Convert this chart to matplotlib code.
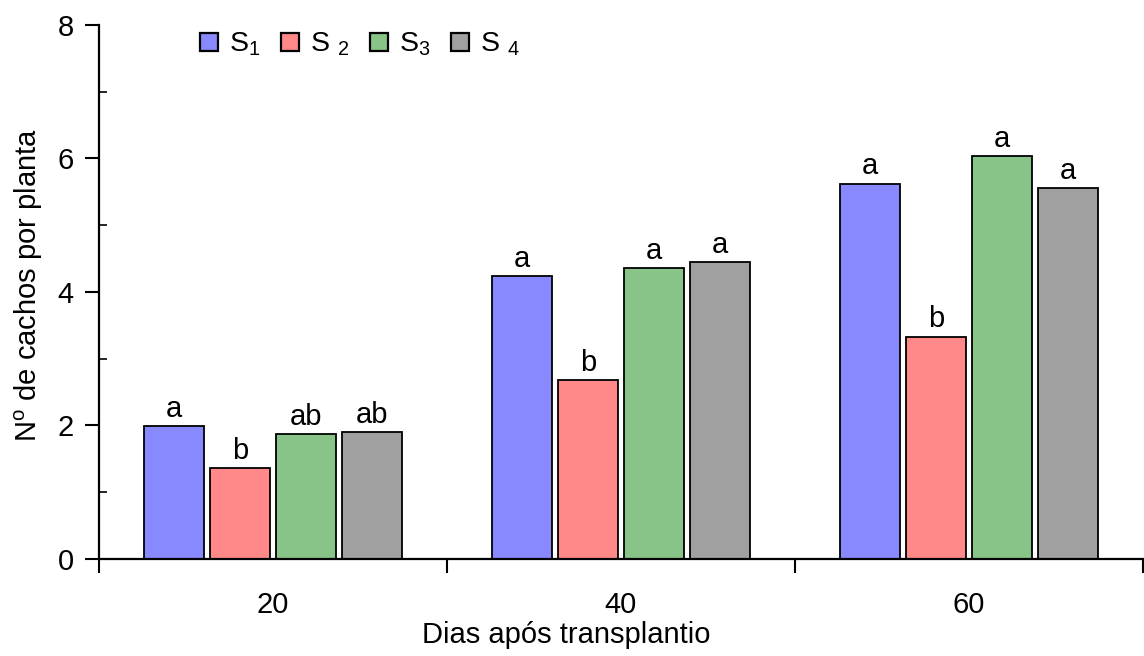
import matplotlib
matplotlib.use("Agg")
import matplotlib.pyplot as plt
import numpy as np
from matplotlib.ticker import FixedLocator

plt.rcParams['font.family'] = ['Liberation Sans', 'DejaVu Sans']
plt.rcParams['mathtext.fontset'] = 'custom'
plt.rcParams['mathtext.rm'] = 'Liberation Sans'
plt.rcParams['mathtext.it'] = 'Liberation Sans'

categories = ["20", "40", "60"]
series_names = ["S$_1$", "S $_2$", "S$_3$", "S $_4$"]
s1 = [1.99, 4.24, 5.62]
s2 = [1.36, 2.68, 3.33]
s3 = [1.87, 4.36, 6.03]
s4 = [1.90, 4.45, 5.55]
letters_s1 = ["a", "a", "a"]
letters_s2 = ["b", "b", "b"]
letters_s3 = ["ab", "a", "a"]
letters_s4 = ["ab", "a", "a"]

series = [s1, s2, s3, s4]
letters = [letters_s1, letters_s2, letters_s3, letters_s4]
colors = ["#8888FF", "#FF8888", "#88C488", "#A0A0A0"]

fig = plt.figure(figsize=(11.44, 6.56), dpi=100)
ax = fig.add_axes([0.0865, 0.148, 0.9125, 0.814])

x = np.arange(len(categories))
width = 0.173
step = 0.19
fs = 21
for i, (vals, lets, c, name) in enumerate(zip(series, letters, colors, series_names)):
    pos = x + (i - 1.5) * step
    ax.bar(pos, vals, width=width, color=c, edgecolor="black", linewidth=1.3,
           label=name, zorder=2)
    for p, v, l in zip(pos, vals, lets):
        ax.text(p, v + 0.05, l, ha="center", va="bottom", fontsize=fs)

ax.set_xlim(-0.5, 2.5)
ax.set_ylim(0, 8)
ax.set_xticks(x)
ax.set_xticklabels(categories, fontsize=fs)
ax.xaxis.set_minor_locator(FixedLocator([-0.5, 0.5, 1.5, 2.5]))
ax.tick_params(axis="x", which="major", length=0, pad=23)
ax.tick_params(axis="x", which="minor", length=10, width=1.5, direction="out")
ax.set_yticks([0, 2, 4, 6, 8])
ax.yaxis.set_minor_locator(FixedLocator([1, 3, 5, 7]))
ax.tick_params(axis="y", which="major", length=10, width=1.5, direction="out",
               labelsize=fs, pad=8)
ax.tick_params(axis="y", which="minor", length=6, width=1.2, direction="in")

for s in ["top", "right"]:
    ax.spines[s].set_visible(False)
for s in ["left", "bottom"]:
    ax.spines[s].set_linewidth(1.6)

ax.set_xlabel("Dias após transplantio", fontsize=fs, labelpad=4)
ax.xaxis.set_label_coords(0.448, -0.117, transform=ax.transAxes)
ax.xaxis.label.set_verticalalignment("top")
ax.set_ylabel("N$^{\\mathrm{o}}$ de cachos por planta", fontsize=fs, labelpad=9)
ax.yaxis.label.set_y(0.513)

leg = ax.legend(loc="upper left", bbox_to_anchor=(0.0855, 1.010), ncol=4, frameon=False,
                fontsize=20.5, handlelength=0.63, handleheight=0.63, handletextpad=0.4,
                columnspacing=0.72, borderaxespad=0)
for h in leg.legend_handles:
    h.set_linewidth(1.6)

fig.savefig("out.png", dpi=100)
